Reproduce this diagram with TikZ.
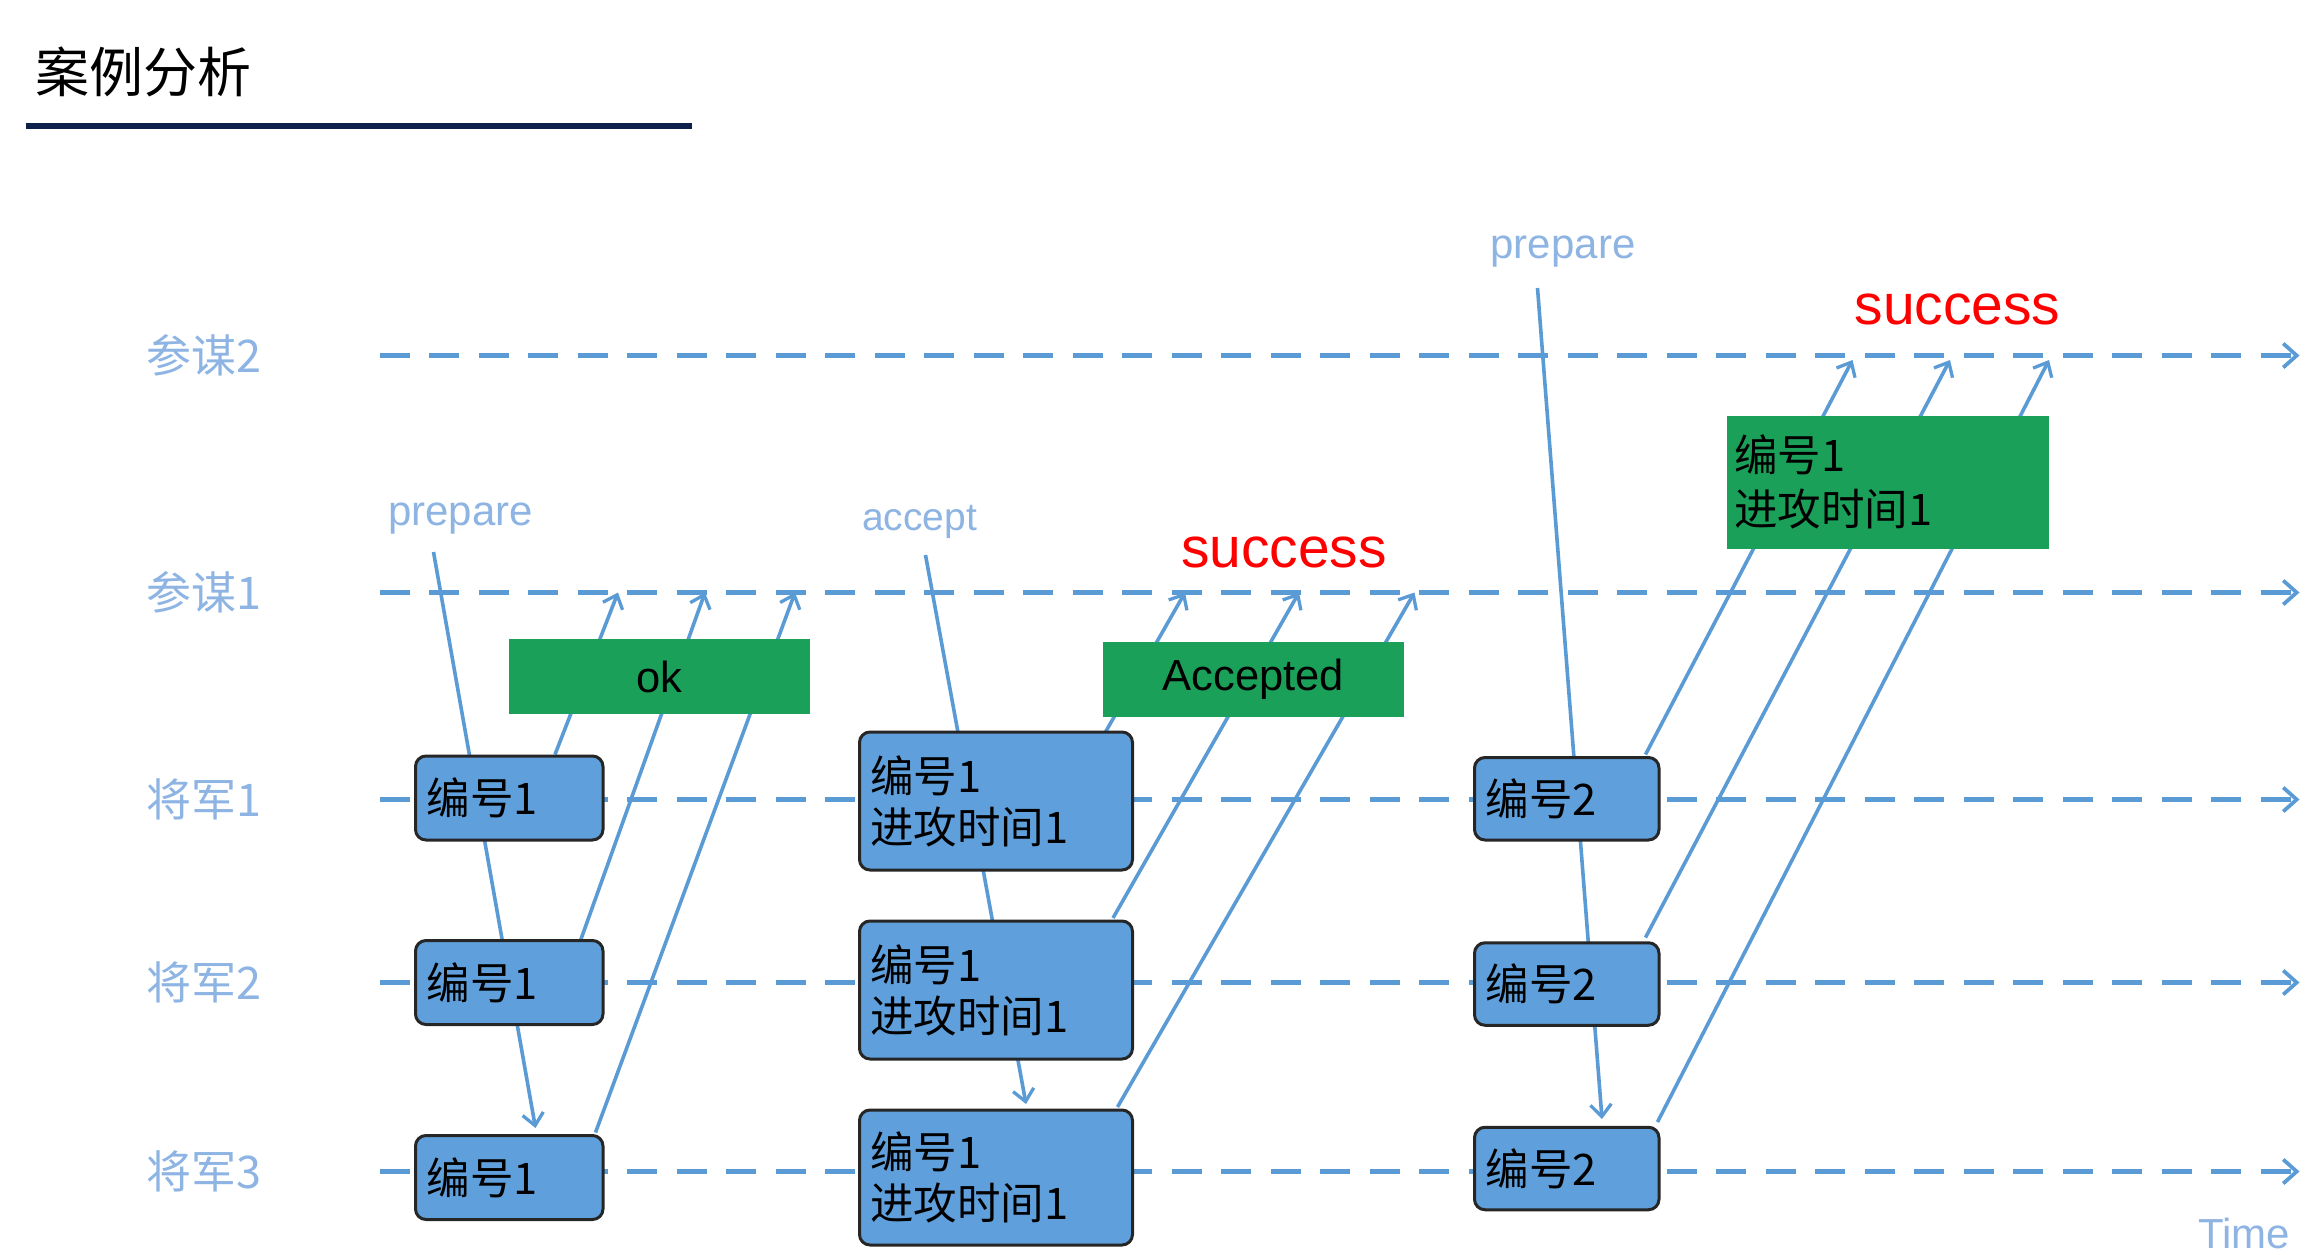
\documentclass[tikz,border=0pt]{standalone}
\usepackage{fontspec}
\setmainfont{Liberation Sans}
\newfontfamily\cjk{Noto Sans CJK SC}
\usetikzlibrary{arrows.meta}
\definecolor{lineb}{HTML}{5B9BD5}
\definecolor{labb}{HTML}{8DB4E2}
\definecolor{boxb}{HTML}{5FA0DC}
\definecolor{grn}{HTML}{1BA05A}
\definecolor{navy}{HTML}{0F1F4B}
\begin{document}
\begin{tikzpicture}[x=1pt,y=-1pt,
  tl/.style={lineb,line width=3pt,dash pattern=on 20pt off 13pt,-{Straight Barb[length=9pt,width=16pt,line width=2.5pt]}},
  msg/.style={lineb,line width=2.4pt,-{Straight Barb[length=8pt,width=14pt,line width=2.2pt]}},
  lab/.style={labb,font=\cjk\fontsize{30}{30}\selectfont},
  bb/.style={draw=black!85,line width=2pt,fill=boxb,rounded corners=7pt,inner sep=0pt,font=\cjk\fontsize{29}{34}\selectfont,align=left,text width=#1},
  gb/.style={fill=grn,inner sep=0pt,font=\fontsize{29}{34}\selectfont},
  succ/.style={red,font=\fontsize{38}{38}\selectfont}]
\useasboundingbox (0,0) rectangle (1548,836);
% title
\node[anchor=west,font=\cjk\fontsize{36}{36}\selectfont] (title) at (20,48) {案例分析};
\draw[navy,line width=4pt] (17,84) coordinate (ul1) -- (461,84) coordinate (ul2);
% lane labels
\node[lab] (L1) at (136,237) {参谋2};
\node[lab] (L2) at (136,395) {参谋1};
\node[lab] (L3) at (136,533) {将军1};
\node[lab] (L4) at (136,655) {将军2};
\node[lab] (L5) at (136,781) {将军3};
% timelines
\foreach \n/\y in {1/237,2/395,3/533,4/655,5/781}{
  \coordinate (s\n) at (253,\y); \coordinate (e\n) at (1533,\y);
  \draw[tl] (s\n) -- (e\n);}
% top labels
\node[labb,font=\fontsize{28}{28}\selectfont] (p1) at (307,346) {prepare};
\node[labb,font=\fontsize{26}{26}\selectfont\rmfamily] (acc) at (613,348) {accept};
\node[labb,font=\fontsize{28}{28}\selectfont] (p2) at (1042,168) {prepare};
\node[succ] (sc1) at (856,368) {success};
\node[succ] (sc2) at (1305,206) {success};
\node[labb,font=\fontsize{28}{28}\selectfont] (time) at (1496,822) {Time};
% message coordinates
\coordinate (a1) at (289,368); \coordinate (a2) at (357,752);
\coordinate (b1) at (617,370); \coordinate (b2) at (684,736);
\coordinate (c1) at (1025,192); \coordinate (c2) at (1068,746);
\draw[msg] (a1) -- (a2);
\draw[msg] (b1) -- (b2);
\draw[msg] (c1) -- (c2);
\foreach \i/\x/\y/\u/\v in {1/370/503/412/395, 2/387/627/470/395, 3/397/755/530/395,
  4/737/488/790/395, 5/742/612/866/395, 6/745/738/943/395,
  7/1097/503/1235/240, 8/1097/625/1300/240, 9/1105/748/1366/240}{
  \coordinate (m\i) at (\x,\y); \coordinate (n\i) at (\u,\v);
  \draw[msg] (m\i) -- (n\i);}
% green boxes
\node[gb,minimum width=201pt,minimum height=50pt] (ok) at (439.5,451) {ok};
\node[gb,minimum width=201pt,minimum height=50pt] (accd) at (835.5,453) {Accepted};
\node[gb,minimum width=215pt,minimum height=89pt,align=left,text width=205pt,font=\cjk\fontsize{29}{36}\selectfont] (g3) at (1258.5,321.5) {编号1\\进攻时间1};
% blue boxes
\foreach \n/\y in {1/532,2/655,3/785}{
  \node[bb=110pt,minimum width=125pt,minimum height=56pt] (x\n) at (339.5,\y) {编号1};}
\foreach \n/\y/\h in {1/534/92,2/660/92,3/785/90}{
  \node[bb=168pt,minimum width=182pt,minimum height=\h pt] (y\n) at (664,\y) {编号1\\进攻时间1};}
\foreach \n/\y in {1/532.5,2/656,3/779}{
  \node[bb=108pt,minimum width=123pt,minimum height=55pt] (z\n) at (1044.5,\y) {编号2};}
\end{tikzpicture}
\end{document}
